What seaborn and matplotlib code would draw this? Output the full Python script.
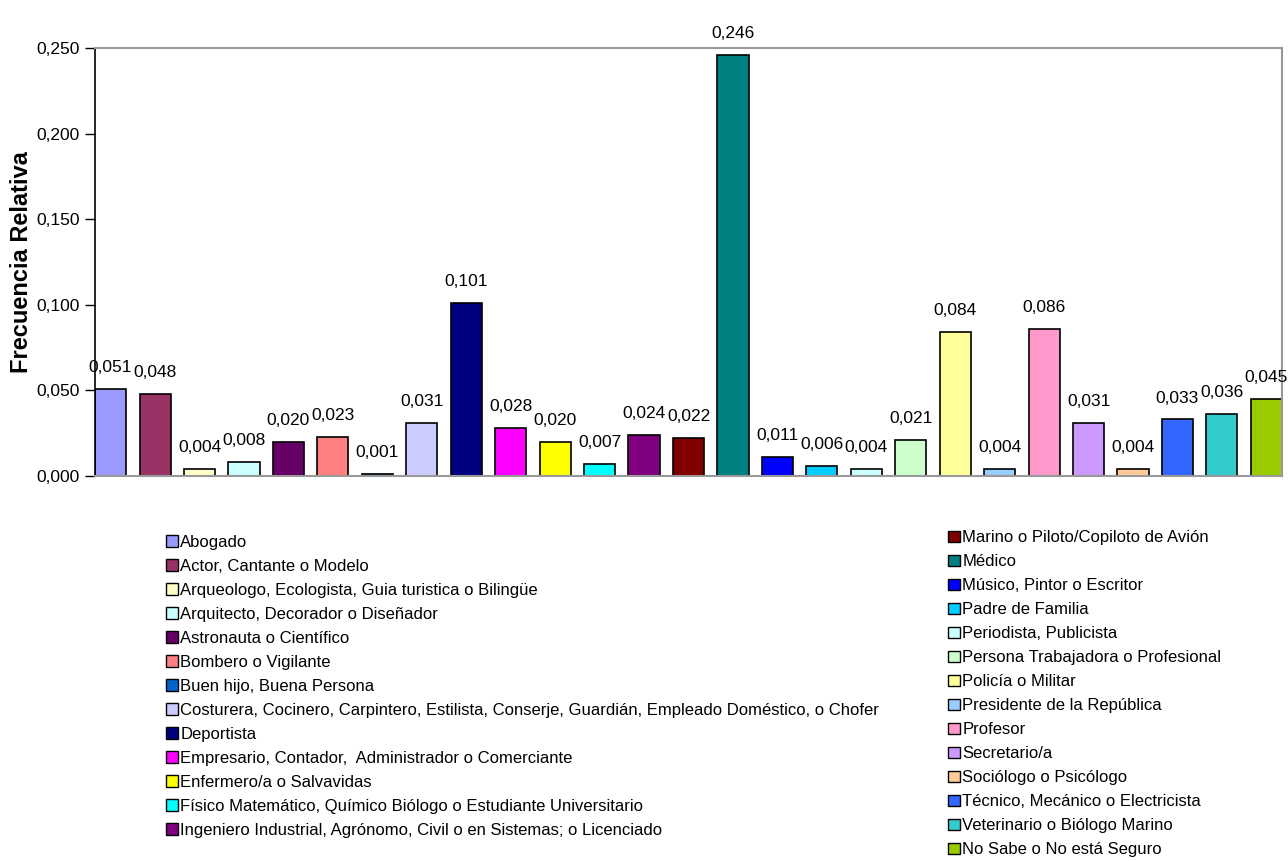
import matplotlib
matplotlib.use("Agg")
import matplotlib.pyplot as plt
import matplotlib.ticker as mticker
from matplotlib.patches import Patch
import pandas as pd
import seaborn as sns

# occupations (order as in the chart)
categorias = [
    "Abogado",
    "Actor, Cantante o Modelo",
    "Arqueologo, Ecologista, Guia turistica o Bilingüe",
    "Arquitecto, Decorador o Diseñador",
    "Astronauta o Científico",
    "Bombero o Vigilante",
    "Buen hijo, Buena Persona",
    "Costurera, Cocinero, Carpintero, Estilista, Conserje, Guardián, Empleado Doméstico, o Chofer",
    "Deportista",
    "Empresario, Contador,  Administrador o Comerciante",
    "Enfermero/a o Salvavidas",
    "Físico Matemático, Químico Biólogo o Estudiante Universitario",
    "Ingeniero Industrial, Agrónomo, Civil o en Sistemas; o Licenciado",
    "Marino o Piloto/Copiloto de Avión",
    "Médico",
    "Músico, Pintor o Escritor",
    "Padre de Familia",
    "Periodista, Publicista",
    "Persona Trabajadora o Profesional",
    "Policía o Militar",
    "Presidente de la República",
    "Profesor",
    "Secretario/a",
    "Sociólogo o Psicólogo",
    "Técnico, Mecánico o Electricista",
    "Veterinario o Biólogo Marino",
    "No Sabe o No está Seguro",
]

frecuencia = [0.051, 0.048, 0.004, 0.008, 0.020, 0.023, 0.001, 0.031, 0.101,
              0.028, 0.020, 0.007, 0.024, 0.022, 0.246, 0.011, 0.006, 0.004,
              0.021, 0.084, 0.004, 0.086, 0.031, 0.004, 0.033, 0.036, 0.045]

colores = ["#9999FF", "#993366", "#FFFFCC", "#CCFFFF", "#660066", "#FF8080",
           "#0066CC", "#CCCCFF", "#000080", "#FF00FF", "#FFFF00", "#00FFFF",
           "#800080", "#800000", "#008080", "#0000FF", "#00CCFF", "#CCFFFF",
           "#CCFFCC", "#FFFF99", "#99CCFF", "#FF99CC", "#CC99FF", "#FFCC99",
           "#3366FF", "#33CCCC", "#99CC00"]

df = pd.DataFrame({"ocupacion": categorias, "frec": frecuencia})

sns.set_style("white")
plt.rcParams["font.family"] = ["Liberation Sans", "DejaVu Sans"]
plt.rcParams["text.color"] = "black"
plt.rcParams["ytick.color"] = "black"
plt.rcParams["axes.labelcolor"] = "black"

fig = plt.figure(figsize=(12.88, 8.61), dpi=100)
ax = fig.add_axes([0.0738, 0.4472, 0.9215, 0.4971])

sns.barplot(data=df, x="ocupacion", y="frec", hue="ocupacion",
            palette=colores, order=categorias, hue_order=categorias,
            width=0.7, edgecolor="black", linewidth=1.2, legend=False,
            saturation=1, ax=ax)

etiquetas = [f"{v:.3f}".replace(".", ",") for v in frecuencia]
for cont, lab in zip(ax.containers, etiquetas):
    ax.bar_label(cont, labels=[lab], padding=10, fontsize=12.5)

ax.set_xlim(-0.35, len(categorias) - 0.65)
ax.set_ylim(0, 0.25)
ax.set_yticks([0, 0.05, 0.10, 0.15, 0.20, 0.25])
ax.yaxis.set_major_formatter(
    mticker.FuncFormatter(lambda v, p: f"{v:.3f}".replace(".", ",")))
ax.tick_params(axis="y", labelsize=12.5, length=7, width=1, left=True,
               direction="out", pad=4, colors="black")
ax.set_xticks([])
ax.set_xlabel("")
ax.set_ylabel("Frecuencia Relativa", fontsize=17, fontweight="bold", color="black")
ax.yaxis.set_label_coords(-0.052, 0.5)

for s in ["top", "right", "bottom"]:
    ax.spines[s].set_color("#999999")
    ax.spines[s].set_linewidth(1.5)
ax.spines["left"].set_color("black")
ax.spines["left"].set_linewidth(1.2)

handles = [Patch(facecolor=c, edgecolor="black", linewidth=1) for c in colores]

leg_kw = dict(loc="upper left", frameon=False, fontsize=12,
              handlelength=0.7, handleheight=0.7, handletextpad=0.15,
              labelspacing=0.54, borderpad=0, borderaxespad=0)
fig.legend(handles[:13], categorias[:13], bbox_to_anchor=(0.129, 0.379), **leg_kw)
fig.legend(handles[13:], categorias[13:], bbox_to_anchor=(0.736, 0.384), **leg_kw)

plt.savefig("out.png", dpi=100)
